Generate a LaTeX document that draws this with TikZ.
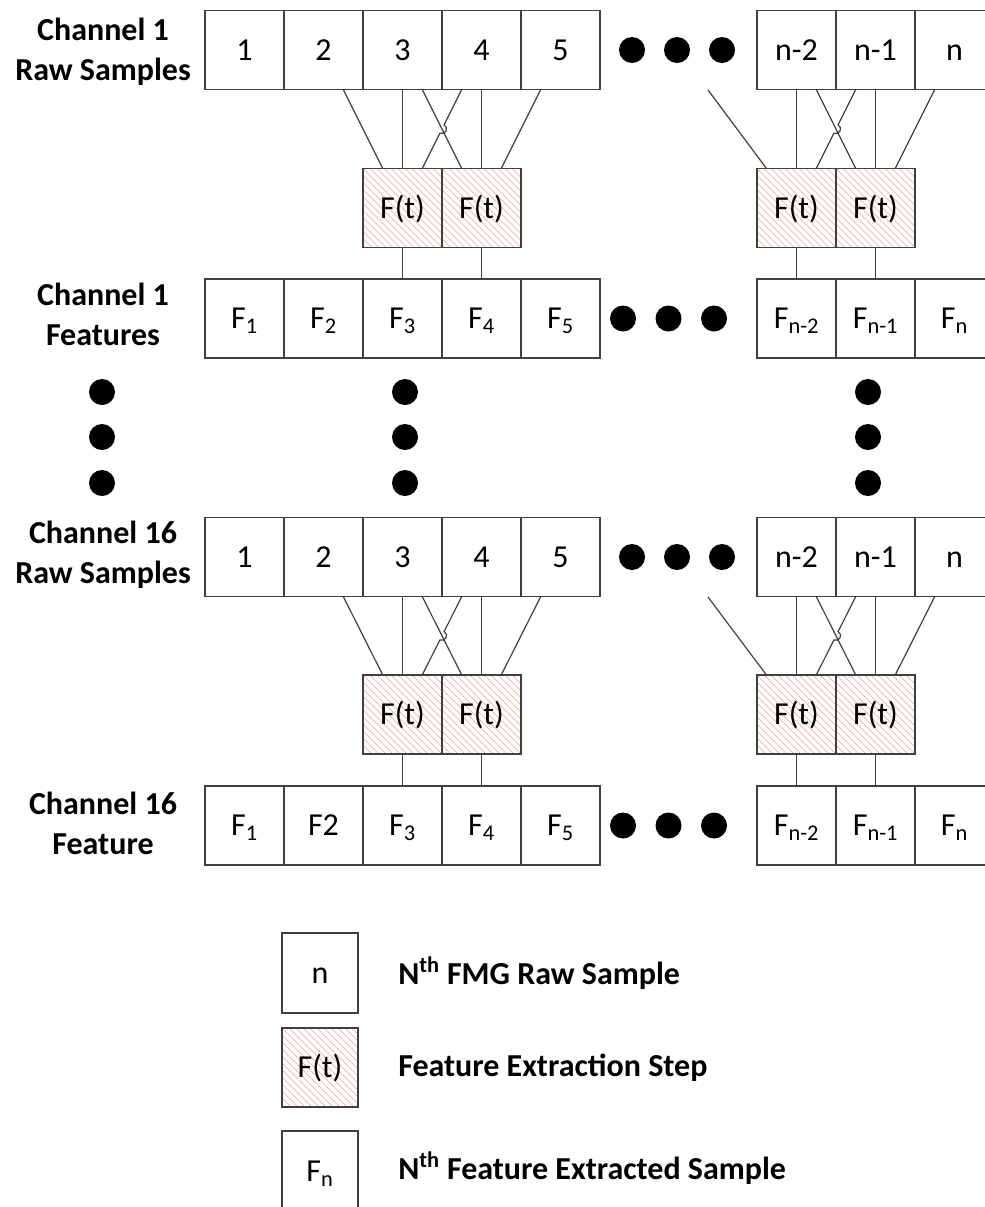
\documentclass[tikz,border=0pt]{standalone}
\usepackage{fontspec}
\setmainfont{Carlito}
\usetikzlibrary{calc}
\definecolor{ln}{RGB}{64,64,64}
\definecolor{hatch}{RGB}{234,160,150}
\tikzset{
  cell/.style={draw=ln, line width=1.1pt, minimum width=59.25pt, minimum height=59.25pt,
    inner sep=0pt, outer sep=0pt, text height=15.5pt, text depth=0pt,
    font=\fontsize{24}{29}\selectfont},
  ftbox/.style={cell, path picture={
      \foreach \k in {-13,...,13}
        \draw[draw=hatch, line width=0.5pt]
          ($(path picture bounding box.north west)+(\k*7,0)$) -- ++(95,95);
    }},
  chlabel/.style={align=center, inner sep=0pt, font=\bfseries\fontsize{24}{30}\selectfont},
  bigdot/.style={circle, fill=black, minimum size=19.5pt, inner sep=0pt},
  conn/.style={draw=ln, line width=0.9pt},
  legtext/.style={anchor=west, inner sep=0pt, font=\bfseries\fontsize{24}{29}\selectfont}
}
\begin{document}
\begin{tikzpicture}[x=0.75pt,y=-0.75pt]
\clip (0,0) rectangle (985,1207);
\fill[white] (0,0) rectangle (985,1207);

% channel labels
\node[chlabel] (la1) at (103,52) {Channel 1\\Raw Samples};
\node[chlabel] (la2) at (103,314) {Channel 1\\Features};
\node[chlabel] (la3) at (103,555) {Channel 16\\Raw Samples};
\node[chlabel] (la4) at (103,823) {Channel 16\\Feature};

\foreach \ch/\ry/\ty/\fy/\ftwo in {a/50/208/318.5/{F\textsubscript{2}}, b/557/714.5/825.5/F2} {
  % raw samples row
  \foreach \i/\x/\t in {1/244.5/1,2/323.5/2,3/402.5/3,4/481.5/4,5/560.5/5,6/796.5/n-2,7/875.5/n-1,8/954.5/n}
    \node[cell] (\ch r\i) at (\x,\ry) {\t};
  % feature row
  \foreach \i/\x/\t in {1/244.5/{F\textsubscript{1}},2/323.5/{\ftwo},3/402.5/{F\textsubscript{3}},4/481.5/{F\textsubscript{4}},5/560.5/{F\textsubscript{5}},6/796.5/{F\textsubscript{n-2}},7/875.5/{F\textsubscript{n-1}},8/954.5/{F\textsubscript{n}}}
    \node[cell] (\ch f\i) at (\x,\fy) {\t};
  % extraction steps
  \foreach \i/\x in {1/402.5,2/481.5,3/796.5,4/875.5}
    \node[ftbox] (\ch t\i) at (\x,\ty) {F(t)};
  % horizontal ellipsis dots
  \foreach \i/\x in {1/632,2/677,3/722}
    \node[bigdot] (\ch hd\i) at (\x,\ry) {};
  \foreach \i/\x in {1/623,2/668.5,3/714}
    \node[bigdot] (\ch fd\i) at (\x,\fy) {};

  % connectors, left group
  \draw[conn] ($(\ch r2.south west)!0.75!(\ch r2.south east)$) -- ($(\ch t1.north west)!0.25!(\ch t1.north east)$);
  \draw[conn] (\ch r3.south) -- (\ch t1.north);
  \draw[conn] ($(\ch r3.south west)!0.75!(\ch r3.south east)$) -- ($(\ch t2.north west)!0.25!(\ch t2.north east)$);
  \coordinate (\ch P) at ($(\ch r4.south west)!0.25!(\ch r4.south east)$);
  \coordinate (\ch Q) at ($(\ch t1.north west)!0.75!(\ch t1.north east)$);
  \coordinate (\ch I) at ($(\ch P)!0.5!(\ch Q)$);
  \coordinate (\ch A) at ($(\ch I)!3.5pt!(\ch P)$);
  \coordinate (\ch B) at ($(\ch I)!3.5pt!(\ch Q)$);
  \draw[conn] (\ch P) -- (\ch A) .. controls ($(\ch A)!4.5pt!-90:(\ch P)$) and ($(\ch B)!4.5pt!90:(\ch Q)$) .. (\ch B) -- (\ch Q);
  \draw[conn] (\ch r4.south) -- (\ch t2.north);
  \draw[conn] ($(\ch r5.south west)!0.25!(\ch r5.south east)$) -- ($(\ch t2.north west)!0.75!(\ch t2.north east)$);
  \draw[conn] (\ch t1.south) -- (\ch f3.north);
  \draw[conn] (\ch t2.south) -- (\ch f4.north);

  % connectors, right group
  \coordinate (\ch X) at (708,\ry+40);
  \draw[conn] (\ch X) -- ($(\ch t3.north west)!0.12!(\ch t3.north east)$);
  \draw[conn] (\ch r6.south) -- (\ch t3.north);
  \draw[conn] ($(\ch r6.south west)!0.75!(\ch r6.south east)$) -- ($(\ch t4.north west)!0.25!(\ch t4.north east)$);
  \coordinate (\ch PP) at ($(\ch r7.south west)!0.25!(\ch r7.south east)$);
  \coordinate (\ch QQ) at ($(\ch t3.north west)!0.75!(\ch t3.north east)$);
  \coordinate (\ch II) at ($(\ch PP)!0.5!(\ch QQ)$);
  \coordinate (\ch AA) at ($(\ch II)!3.5pt!(\ch PP)$);
  \coordinate (\ch BB) at ($(\ch II)!3.5pt!(\ch QQ)$);
  \draw[conn] (\ch PP) -- (\ch AA) .. controls ($(\ch AA)!4.5pt!-90:(\ch PP)$) and ($(\ch BB)!4.5pt!90:(\ch QQ)$) .. (\ch BB) -- (\ch QQ);
  \draw[conn] (\ch r7.south) -- (\ch t4.north);
  \draw[conn] ($(\ch r8.south west)!0.25!(\ch r8.south east)$) -- ($(\ch t4.north west)!0.75!(\ch t4.north east)$);
  \draw[conn] (\ch t3.south) -- (\ch f6.north);
  \draw[conn] (\ch t4.south) -- (\ch f7.north);
}

% vertical ellipsis dots
\foreach \j/\x in {1/102,2/405,3/868}
  \foreach \k/\y in {1/392,2/437,3/483}
    \node[bigdot] (vd\j\k) at (\x,\y) {};

% legend
\node[cell, minimum width=57pt, minimum height=60pt] (l1) at (320,973) {n};
\node[ftbox, minimum width=57pt, minimum height=59.25pt] (l2) at (320,1067.5) {F(t)};
\node[cell, minimum width=57pt, minimum height=60pt] (l3) at (320,1171) {F\textsubscript{n}};
\node[legtext] (lt1) at (398,973) {N\textsuperscript{th} FMG Raw Sample};
\node[legtext] (lt2) at (398,1067.5) {Feature Extraction Step};
\node[legtext] (lt3) at (398,1168) {N\textsuperscript{th} Feature Extracted Sample};
\end{tikzpicture}
\end{document}
